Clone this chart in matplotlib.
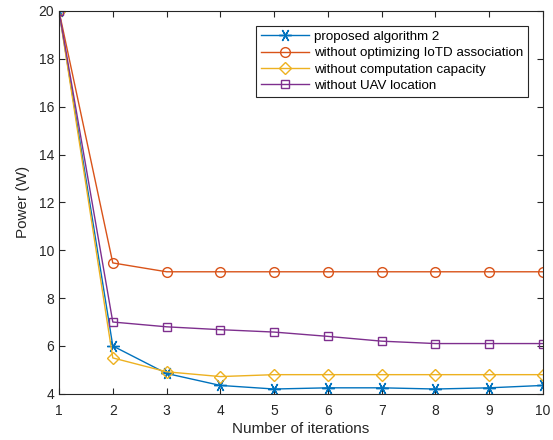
import matplotlib
matplotlib.use("Agg")
import matplotlib.pyplot as plt

plt.rcParams['font.family'] = ['Liberation Sans', 'DejaVu Sans']

iterations = [1, 2, 3, 4, 5, 6, 7, 8, 9, 10]
proposed = [20, 6.0, 4.85, 4.35, 4.2, 4.25, 4.25, 4.2, 4.25, 4.35]
no_assoc = [20, 9.47, 9.1, 9.1, 9.1, 9.1, 9.1, 9.1, 9.1, 9.1]
no_comp = [20, 5.5, 4.92, 4.72, 4.8, 4.8, 4.8, 4.8, 4.8, 4.8]
no_uav = [20, 7.0, 6.8, 6.68, 6.58, 6.4, 6.2, 6.1, 6.1, 6.1]

labels = ['proposed algorithm 2',
          'without optimizing IoTD association',
          'without computation capacity',
          'without UAV location']

c_blue = (0, 0.447, 0.741)
c_red = (0.85, 0.325, 0.098)
c_yel = (0.929, 0.694, 0.125)
c_pur = (0.494, 0.184, 0.556)
axc = (0.15, 0.15, 0.15)

fig = plt.figure(figsize=(5.53, 4.4), dpi=100)
ax = fig.add_axes([0.1067, 0.105, 0.8753, 0.87])

# matlab style asterisk
ax.plot(iterations, proposed, color=c_blue, marker=(6, 2, 90), markersize=9, linewidth=1,
        markeredgewidth=1, label=labels[0])
ax.plot(iterations, no_assoc, color=c_red, marker='o', markersize=7, linewidth=1,
        markerfacecolor='none', label=labels[1])
ax.plot(iterations, no_comp, color=c_yel, marker='D', markersize=6, linewidth=1,
        markerfacecolor='none', label=labels[2])
ax.plot(iterations, no_uav, color=c_pur, marker='s', markersize=6, linewidth=1,
        markerfacecolor='none', label=labels[3])

ax.set_xlim(1, 10)
ax.set_ylim(4, 20)
ax.set_xticks(range(1, 11))
ax.set_yticks(range(4, 21, 2))
ax.tick_params(direction='in', top=True, right=True, colors=axc, labelsize=10,
               labelcolor=axc, length=4, width=0.8)
ax.tick_params(axis='x', pad=7)
for s in ax.spines.values():
    s.set_color(axc)
    s.set_linewidth(0.8)

ax.set_xlabel('Number of iterations', fontsize=11, color=axc, labelpad=3)
ax.set_ylabel('Power (W)', fontsize=11, color=axc, labelpad=6)

leg = ax.legend(loc='upper right', bbox_to_anchor=(0.969, 0.961), fontsize=9.6,
                frameon=True, fancybox=False, edgecolor=axc, framealpha=1,
                handlelength=3.6, borderpad=0.35, labelspacing=0.3, handletextpad=0.4,
                borderaxespad=0)
leg.get_frame().set_linewidth(0.8)

fig.savefig('out.png', dpi=100)
